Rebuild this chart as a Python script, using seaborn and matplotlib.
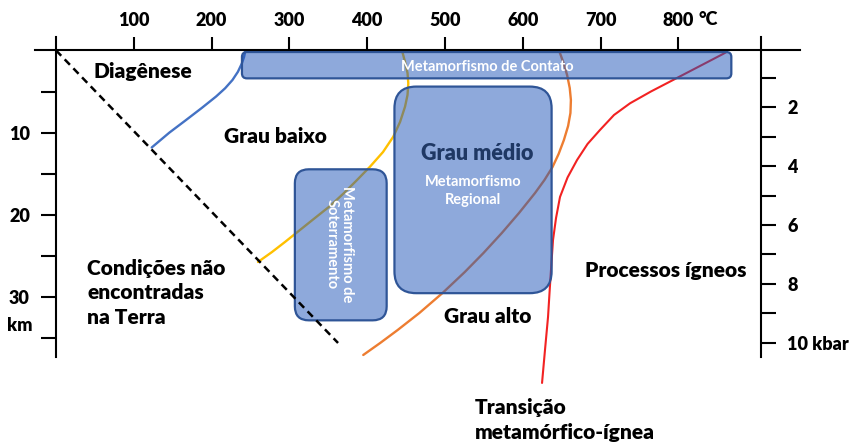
import numpy as np
import matplotlib
matplotlib.use("Agg")
import matplotlib.pyplot as plt
import seaborn as sns
from matplotlib.patches import FancyBboxPatch

# temperature (C) / depth (km) readings of each boundary curve
geotherm_T = [0, 362.5]
geotherm_d = [0, 35.55]

diag_T = [243.5, 241.7, 238.8, 233.8, 226.8, 217.4, 205.8, 187.3, 166.6, 145.6, 123.0]
diag_d = [0, 0.8, 1.6, 2.6, 3.6, 4.6, 5.6, 7.0, 8.5, 10.0, 11.8]

low_T = [444.7, 448.6, 451.8, 452.8, 451.8, 448.6, 442.2, 433.5, 420.3, 403.6, 386.9, 370.2,
         352.2, 332.9, 313.6, 294.3, 277.6, 259.6]
low_d = [0, 1.41, 2.75, 4.0, 5.42, 6.84, 8.70, 10.49, 12.35, 14.13, 15.75, 17.33,
         18.91, 20.36, 21.82, 23.28, 24.50, 25.71]

high_T = [646.5, 651.9, 656.9, 660.3, 661.8, 661.2, 658.2, 652.8, 646.0, 638.2, 627.8, 615.7,
          595.1, 573.0, 549.4, 525.4, 496.8, 467.0, 439.2, 416.7, 394.9]
high_d = [0, 1.41, 2.99, 4.57, 6.03, 7.61, 9.19, 10.89, 12.59, 14.17, 15.75, 17.33,
          19.76, 22.19, 24.62, 26.93, 29.48, 31.91, 33.97, 35.55, 37.01]

melt_T = [861.8, 857.3, 825.2, 793.1, 764.8, 737.8, 717.2, 699.2, 683.2, 669.7, 657.5, 647.8,
          642.7, 638.8, 636.2, 634.3, 632.4, 628.5, 624.7]
melt_d = [0.2, 0.44, 2.02, 3.60, 4.99, 6.43, 7.85, 9.67, 11.37, 13.32, 15.44, 17.81,
          20.36, 23.04, 26.68, 29.48, 32.39, 36.40, 40.41]

# metamorphism fields: (T min, T max, depth min, depth max)
contact_box = (239, 868, 0.2, 3.4)
regional_box = (435, 637, 4.4, 29.5)
burial_box = (307, 425, 14.45, 32.8)

temp_ticks = [100, 200, 300, 400, 500, 600, 700, 800]
depth_ticks = [10, 20, 30]
depth_minor = [5, 15, 25, 35]
kbar_ticks = [2, 4, 6, 8, 10]
kbar_labels = ["2", "4", "6", "8", "10 kbar"]
kbar_minor = [1, 3, 5, 7, 9]
KM_PER_KBAR = 3.573
KBAR_OFFSET = 0.23

sns.set_theme(style="white")
plt.rcParams["font.family"] = ["Lato", "DejaVu Sans"]
plt.rcParams["font.weight"] = "heavy"
plt.rcParams["text.color"] = "black"

fig = plt.figure(figsize=(8.59, 4.47), dpi=100)
ax = fig.add_axes([0, 0, 1, 1])
ax.set_facecolor("white")

lw_axis = 1.5
for xs, ys, col, lw in [(diag_T, diag_d, "#4472C4", 1.7), (low_T, low_d, "#FFC000", 1.7),
                        (high_T, high_d, "#ED7D31", 1.7), (melt_T, melt_d, "#F22222", 1.5)]:
    sns.lineplot(x=xs, y=ys, sort=False, estimator=None, ax=ax, color=col, linewidth=lw, zorder=2)
for ln in ax.lines:
    ln.set_solid_joinstyle("round")
sns.lineplot(x=geotherm_T, y=geotherm_d, sort=False, estimator=None, ax=ax, color="black",
             linewidth=1.8, zorder=5)
ax.lines[-1].set_dashes((3, 2))

asp = 0.778 / 8.23
face = (31 / 255, 85 / 255, 185 / 255, 0.5)
for (t0, t1, d0, d1), r in [(contact_box, 6.4), (regional_box, 28), (burial_box, 18)]:
    ax.add_patch(FancyBboxPatch((t0, d0), t1 - t0, d1 - d0,
                                boxstyle=f"round,pad=0,rounding_size={r}",
                                mutation_aspect=asp, facecolor=face,
                                edgecolor="#2F5597", linewidth=1.6, zorder=3))

ax.set_xlim(-72, 1032.1)
ax.set_ylim(48.19, -6.12)

# axes frame
for s in ["bottom", "right"]:
    ax.spines[s].set_visible(False)
ax.spines["top"].set_position(("data", 0))
ax.spines["top"].set_bounds(-27, 956)
ax.spines["left"].set_position(("data", 0))
ax.spines["left"].set_bounds(-1.6, 37.25)
for s in ["top", "left"]:
    ax.spines[s].set_linewidth(lw_axis)
    ax.spines[s].set_color("black")
    ax.spines[s].set_zorder(6)

tick_size = 13
ax.xaxis.set_ticks_position("top")
ax.set_xticks(temp_ticks)
ax.set_xticklabels([str(t) for t in temp_ticks])
ax.tick_params(axis="x", direction="out", length=9.4, width=lw_axis, pad=6,
               labelsize=tick_size, colors="black")
ax.set_yticks(depth_ticks)
ax.set_yticks(depth_minor, minor=True)
ax.tick_params(axis="y", which="both", direction="out", length=10.8, width=lw_axis,
               pad=8, labelsize=tick_size, colors="black", left=True)
ax.set_xlabel("")
ax.set_ylabel("")

ax2 = ax.twinx()
ax2.set_ylim((48.19 + KBAR_OFFSET) / KM_PER_KBAR, (-6.12 + KBAR_OFFSET) / KM_PER_KBAR)
for s in ["top", "bottom", "left"]:
    ax2.spines[s].set_visible(False)
ax2.spines["right"].set_position(("data", 906.2))
ax2.spines["right"].set_bounds((-1.6 + KBAR_OFFSET) / KM_PER_KBAR, (37.25 + KBAR_OFFSET) / KM_PER_KBAR)
ax2.spines["right"].set_linewidth(lw_axis)
ax2.spines["right"].set_color("black")
ax2.set_yticks(kbar_ticks)
ax2.set_yticklabels(kbar_labels)
ax2.set_yticks(kbar_minor, minor=True)
ax2.tick_params(axis="y", which="both", direction="out", length=10.8, width=lw_axis,
                pad=8, labelsize=tick_size, colors="black", right=True)
ax2.grid(False)
ax.grid(False)

# unit labels
ax.text(838, -3.7, "°C", ha="center", va="center", fontsize=tick_size)
ax.text(-46.9, 33.4, "km", ha="center", va="center", fontsize=tick_size)

big = 15
ax.text(111.8, 2.62, "Diagênese", ha="center", va="center", fontsize=big, zorder=7)
ax.text(281.5, 10.5, "Grau baixo", ha="center", va="center", fontsize=big, zorder=7)
ax.text(541, 12.5, "Grau médio", ha="center", va="center", fontsize=15.5, color="#1F3864", zorder=7)
ax.text(535.7, 17.1, "Metamorfismo\nRegional", ha="center", va="center", fontsize=10.5,
        fontweight="bold", color="white", linespacing=1.3, zorder=7)
ax.text(553.9, 1.98, "Metamorfismo de Contato", ha="center", va="center", fontsize=10.5,
        fontweight="bold", color="white", zorder=7)
ax.text(363.8, 23.5, "Metamorfismo de\nSoterramento", ha="center", va="center", fontsize=10.5,
        fontweight="bold", color="white", rotation=270, multialignment="center",
        linespacing=1.1, zorder=7)
ax.text(40.2, 29.45, "Condições não\nencontradas\nna Terra", ha="left", va="center", fontsize=big,
        linespacing=1.35, zorder=7)
ax.text(554.6, 32.3, "Grau alto", ha="center", va="center", fontsize=big, zorder=7)
ax.text(784, 26.7, "Processos ígneos", ha="center", va="center", fontsize=big, zorder=7)
ax.text(538.6, 44.9, "Transição\nmetamórfico-ígnea", ha="left", va="center", fontsize=big,
        linespacing=1.35, zorder=7)

fig.savefig("out.png", dpi=100, facecolor="white")
